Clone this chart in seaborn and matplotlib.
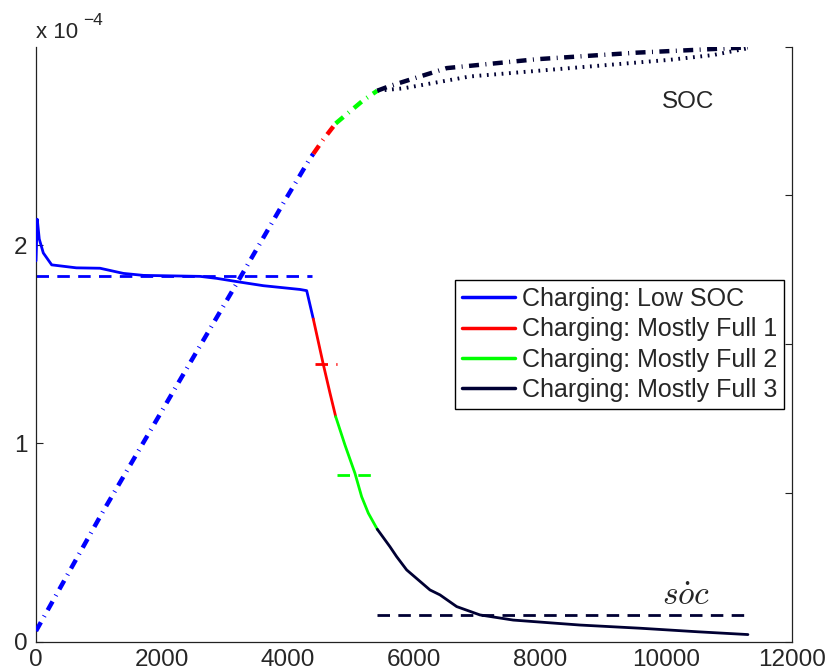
import matplotlib
matplotlib.use("Agg")
import matplotlib.pyplot as plt
import seaborn as sns
import pandas as pd

# ---------------- data ----------------
# rate of change of SOC (soc-dot), in units of 1e-4
low_t = [0, 20, 52, 116, 249, 640, 1016, 1386, 1704, 2603, 2867, 3238, 3607, 4190, 4295, 4400]
low_rate = [1.92, 2.13, 2.03, 1.96, 1.90, 1.885, 1.883, 1.857, 1.847, 1.842, 1.832, 1.813,
            1.795, 1.776, 1.770, 1.627]
full1_t = [4400, 4558, 4665, 4755]
full1_rate = [1.627, 1.399, 1.253, 1.135]
full2_t = [4755, 4902, 5061, 5167, 5273, 5415]
full2_rate = [1.135, 0.992, 0.849, 0.731, 0.648, 0.567]
full3_t = [5415, 5616, 5722, 5881, 6251, 6410, 6675, 7044, 7573, 8631, 9583, 10500, 11296]
full3_rate = [0.567, 0.479, 0.429, 0.362, 0.261, 0.236, 0.177, 0.135, 0.109, 0.084, 0.068,
              0.050, 0.036]

# mean soc-dot for each phase (dashed)
mean_start = [0, 4425, 4771, 5405]
mean_end = [4380, 4771, 5415, 11296]
mean_rate = [1.845, 1.399, 0.841, 0.135]

# SOC (right axis, 0..1)
low_soc_t = [0, 1042, 2258, 3289, 3924, 4347, 4400]
low_soc = [0.018, 0.215, 0.435, 0.621, 0.737, 0.812, 0.820]
full1_soc_t = [4400, 4558, 4755]
full1_soc = [0.820, 0.844, 0.871]
full2_soc_t = [4755, 5193, 5415]
full2_soc = [0.871, 0.910, 0.926]
full3_soc_t = [5415, 5616, 6516, 7949, 9535, 11122, 11296]
full3_soc = [0.926, 0.934, 0.964, 0.979, 0.990, 0.998, 0.999]
full3_soc_alt_t = [5415, 5828, 6886, 8472, 10059, 10746, 11276]
full3_soc_alt = [0.926, 0.930, 0.950, 0.964, 0.978, 0.986, 0.997]

labels = ["Charging: Low SOC", "Charging: Mostly Full 1",
          "Charging: Mostly Full 2", "Charging: Mostly Full 3"]
colors = ["#0000FF", "#FF0000", "#00FF00", "#000033"]

xticks = [0, 2000, 4000, 6000, 8000, 10000, 12000]
yticks = [0, 1, 2]

# ---------------- style ----------------
sns.set_style("white")
plt.rcParams["font.family"] = ["Liberation Sans", "DejaVu Sans"]

W, H = 830, 672
fig = plt.figure(figsize=(W / 100, H / 100), dpi=100)
L, R, T, B = 36, 792.3, 46.7, 641.7
ax = fig.add_axes([L / W, 1 - B / H, (R - L) / W, (B - T) / H])
ax2 = ax.twinx()

SOLID_LW = 2.0
DASH = (0, (4.5, 3.0))
DASHDOT = (0, (2.25, 1.45, 0.22, 1.45))
DOT = (0, (0.45, 1.45))

def line(a, x, y, color, lw, ls, label=None, z=2):
    df = pd.DataFrame({"x": x, "y": y})
    n0 = len(a.lines)
    sns.lineplot(data=df, x="x", y="y", ax=a, color=color,
                 sort=False, estimator=None, legend=False, zorder=z)
    ln = a.lines[n0]
    ln.set_linewidth(lw)
    ln.set_linestyle(ls)
    ln.set_dash_capstyle("butt")
    if label:
        ln.set_label(label)
    return ln

# rate curves
handles = []
for (tt, rr), c, lab in zip([(low_t, low_rate), (full1_t, full1_rate),
                             (full2_t, full2_rate), (full3_t, full3_rate)], colors, labels):
    handles.append(line(ax, tt, rr, c, SOLID_LW, "-", label=lab, z=3))

# mean dashed lines
for s, e, m, c in zip(mean_start, mean_end, mean_rate, colors):
    line(ax, [s, e], [m, m], c, 2.0, DASH, z=2)

# SOC curves
line(ax2, full3_soc_alt_t, full3_soc_alt, colors[3], 2.8, DOT)
for (tt, ss), c in zip([(low_soc_t, low_soc), (full1_soc_t, full1_soc),
                        (full2_soc_t, full2_soc), (full3_soc_t, full3_soc)], colors):
    line(ax2, tt, ss, c, 3.2, DASHDOT)

# axes limits / ticks
ax.set_xlim(0, 12000)
ax.set_ylim(0, 3)
ax.set_xticks(xticks)
ax.set_xticklabels([str(v) for v in xticks])
ax.set_yticks(yticks)
ax.set_yticklabels([str(v) for v in yticks])
ax.set_xlabel("")
ax.set_ylabel("")
ax2.set_ylim(0, 1)
ax2.set_yticks([0, 0.25, 0.5, 0.75, 1.0])
ax2.set_yticklabels([])
ax2.set_ylabel("")

for a in (ax, ax2):
    for sp in a.spines.values():
        sp.set_linewidth(0.9)
        sp.set_color("#222222")
    a.spines["top"].set_visible(False)
ax.spines["right"].set_visible(False)
ax2.spines["left"].set_visible(False)
ax2.spines["bottom"].set_visible(False)

ax.tick_params(axis="both", direction="in", length=5.3, width=0.8, color="#222222",
               labelsize=17.5, top=False, right=False)
ax.tick_params(axis="x", pad=5)
ax.tick_params(axis="y", pad=6)
ax2.tick_params(axis="y", direction="in", length=5.3, width=0.8, color="#222222",
                right=True, labelright=False)

# legend
leg = ax2.legend(handles=handles, labels=labels, loc="upper left",
                 bbox_to_anchor=(455 / W, 1 - 280 / H), bbox_transform=fig.transFigure,
                 borderaxespad=0, fontsize=18, frameon=True, fancybox=False,
                 handlelength=2.1, handletextpad=0.3, labelspacing=0.25,
                 borderpad=0.28, framealpha=1)
leg.get_frame().set_edgecolor("black")
leg.get_frame().set_linewidth(1.0)
for lh in leg.get_lines():
    lh.set_linewidth(2.5)

# annotations
fig.text(L / W, 1 - 38 / H, "x 10", fontsize=16, va="baseline", ha="left")
fig.text(83 / W, 1 - 25 / H, "\u22124", fontsize=12.5, va="baseline", ha="left")
fig.text(661.7 / W, 1 - 108 / H, "SOC", fontsize=17.5, va="baseline", ha="left")
fig.text(661.7 / W, 1 - 605 / H, r"$s\dot{o}c$", fontsize=24, va="baseline", ha="left",
         math_fontfamily="cm")

fig.savefig("out.png", dpi=100)
